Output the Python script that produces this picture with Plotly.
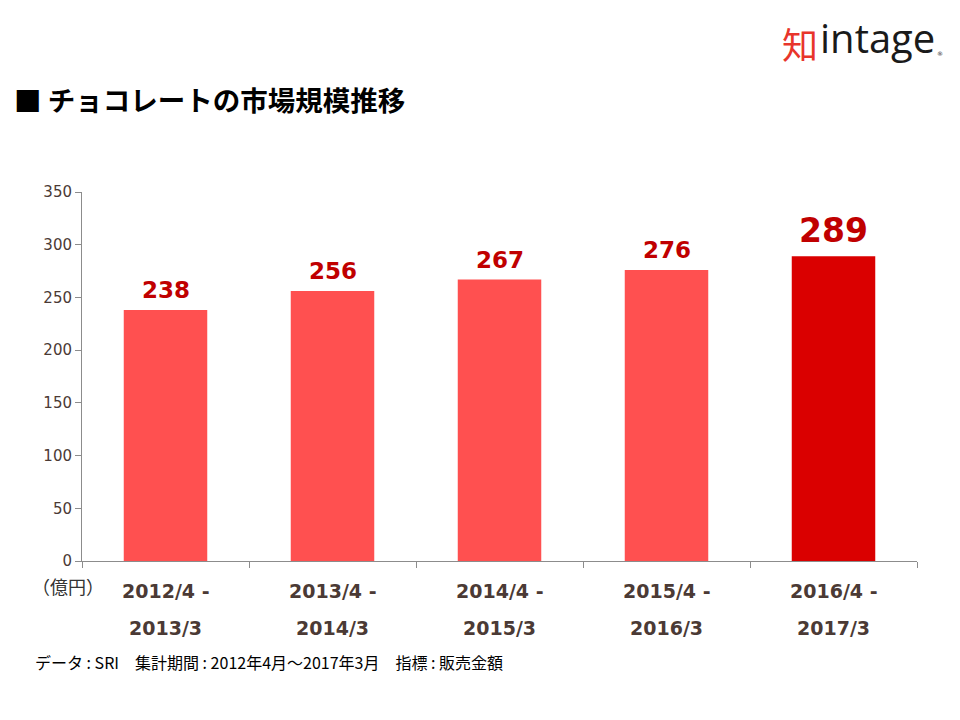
import plotly.graph_objects as go

categories = ["2012/4 -<br>2013/3", "2013/4 -<br>2014/3", "2014/4 -<br>2015/3", "2015/4 -<br>2016/3", "2016/4 -<br>2017/3"]
line1 = ["2012/4 -", "2013/4 -", "2014/4 -", "2015/4 -", "2016/4 -"]
line2 = ["2013/3", "2014/3", "2015/3", "2016/3", "2017/3"]
values = [238, 256, 267, 276, 289]
bar_colors = ["#FF5050", "#FF5050", "#FF5050", "#FF5050", "#DA0000"]
label_sizes = [23, 23, 23, 23, 33]

CJK = "Noto Sans CJK JP"
VER = "DejaVu Sans"
TXT = "#4B3A35"

L, R, T, B = 82, 43, 192, 159
W, H = 960, 720
PW, PH = W - L - R, H - T - B

def pxx(px):
    return (px - L) / PW
def pyy(py):
    return (H - B - py) / PH

fig = go.Figure()
fig.add_trace(go.Bar(x=categories, y=values, marker=dict(color=bar_colors, line=dict(width=0)),
                     width=0.5, hoverinfo="skip"))

fig.update_layout(
    width=W, height=H,
    margin=dict(l=L, r=R, t=T, b=B),
    plot_bgcolor="white", paper_bgcolor="white",
    showlegend=False, bargap=0.5,
    xaxis=dict(showticklabels=False, showline=True, linecolor="#8C8C8C", linewidth=1,
               ticks="outside", ticklen=6, tickcolor="#8C8C8C", tickson="boundaries",
               showgrid=False, fixedrange=True),
    yaxis=dict(range=[0, 350], dtick=50, showline=True, linecolor="#8C8C8C", linewidth=1,
               ticks="outside", ticklen=6, tickcolor="#8C8C8C", showgrid=False,
               tickfont=dict(family=VER, size=15, color=TXT), zeroline=False, fixedrange=True),
)

annotations = []
for c, v, s in zip(categories, values, label_sizes):
    annotations.append(dict(x=c, y=v, xref="x", yref="y", text=f"<b>{v}</b>", showarrow=False,
                            yanchor="bottom", yshift=5 if s < 30 else 4,
                            font=dict(family=VER, size=s, color="#C00000")))
for c, a in zip(categories, line1):
    annotations.append(dict(x=c, y=pyy(591), xref="x", yref="paper", yanchor="middle",
                            text=f"<b>{a}</b>", showarrow=False,
                            font=dict(family=VER, size=19, color=TXT)))
for c, b in zip(categories, line2):
    annotations.append(dict(x=c, y=pyy(628), xref="x", yref="paper", yanchor="middle",
                            text=f"<b>{b}</b>", showarrow=False,
                            font=dict(family=VER, size=19, color=TXT)))

annotations += [
    dict(x=pxx(30), y=pyy(586), xref="paper", yref="paper", xanchor="left", yanchor="middle",
         text="（億円）", showarrow=False, font=dict(family=CJK, size=18, color="#333333")),
    dict(x=pxx(12), y=pyy(99), xref="paper", yref="paper", xanchor="left", yanchor="middle",
         text="<b>■ チョコレートの市場規模推移</b>", showarrow=False,
         font=dict(family=CJK, size=27.5, color="#000000")),
    dict(x=pxx(33), y=pyy(662), xref="paper", yref="paper", xanchor="left", yanchor="middle",
         text="データ : SRI　集計期間 : 2012年4月～2017年3月　指標 : 販売金額", showarrow=False,
         font=dict(family=CJK, size=16, color="#000000")),
    dict(x=pxx(780), y=pyy(43), xref="paper", yref="paper", xanchor="left", yanchor="middle",
         text="知", showarrow=False, font=dict(family=CJK, size=36, color="#E8352B")),
    dict(x=pxx(818), y=pyy(37), xref="paper", yref="paper", xanchor="left", yanchor="middle",
         text="intage", showarrow=False, font=dict(family="Open Sans", size=40, color="#1A1A1A")),
    dict(x=pxx(935), y=pyy(53), xref="paper", yref="paper", xanchor="left", yanchor="middle",
         text="®", showarrow=False, font=dict(family="DejaVu Sans", size=6, color="#1A1A1A")),
]
fig.update_layout(annotations=annotations)

fig.write_html("out.html")
